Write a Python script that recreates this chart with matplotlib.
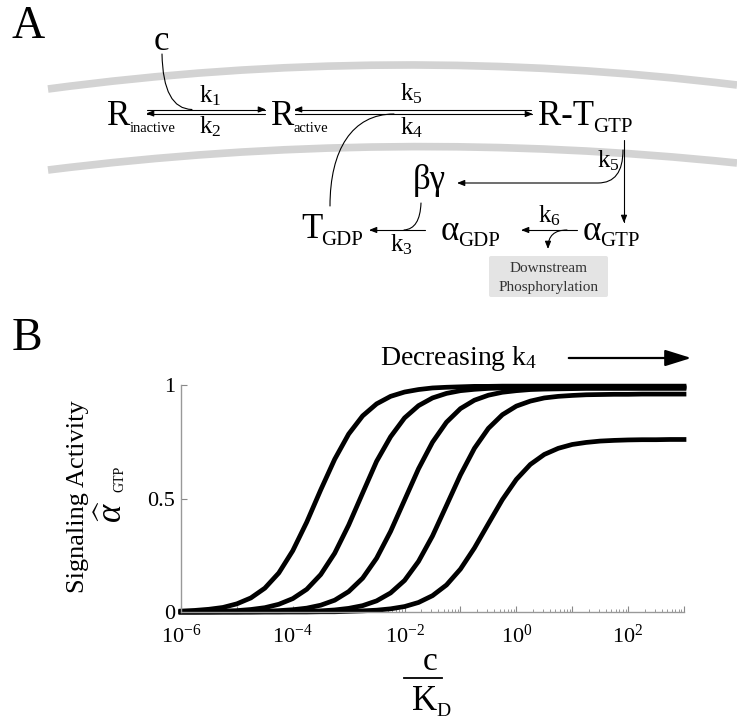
import numpy as np
import matplotlib
matplotlib.use('Agg')
import matplotlib.pyplot as plt
from matplotlib.path import Path
from matplotlib.patches import PathPatch, FancyArrowPatch, FancyBboxPatch, ArrowStyle

plt.rcParams['font.family'] = ['Liberation Serif', 'DejaVu Serif']
plt.rcParams['mathtext.fontset'] = 'custom'
plt.rcParams['mathtext.rm'] = 'Liberation Serif'
plt.rcParams['mathtext.it'] = 'Liberation Serif:italic'

# log10(c/KD) grid, values
log_c = [-6.0, -5.75, -5.5, -5.25, -5.0, -4.75, -4.5, -4.25, -4.0, -3.75, -3.5, -3.25,
         -3.0, -2.75, -2.5, -2.25, -2.0, -1.75, -1.5, -1.25, -1.0, -0.75, -0.5, -0.25,
         0.0, 0.25, 0.5, 0.75, 1.0, 1.25, 1.5, 1.75, 2.0, 2.25, 2.5, 2.75, 3.0]

act_1 = [0.004, 0.007, 0.012, 0.020, 0.036, 0.062, 0.105, 0.172, 0.270, 0.396, 0.538, 0.673,
         0.784, 0.864, 0.917, 0.950, 0.969, 0.980, 0.987, 0.990, 0.992, 0.994, 0.994, 0.995,
         0.995, 0.995, 0.995, 0.995, 0.995, 0.995, 0.995, 0.995, 0.995, 0.995, 0.995, 0.995, 0.995]
act_2 = [0.001, 0.001, 0.002, 0.004, 0.006, 0.011, 0.019, 0.034, 0.059, 0.100, 0.165, 0.259,
         0.383, 0.524, 0.664, 0.772, 0.855, 0.909, 0.943, 0.963, 0.975, 0.981, 0.985, 0.987,
         0.988, 0.989, 0.990, 0.990, 0.990, 0.990, 0.990, 0.990, 0.990, 0.990, 0.990, 0.990, 0.990]
act_3 = [0.000, 0.000, 0.000, 0.001, 0.001, 0.002, 0.003, 0.006, 0.010, 0.017, 0.030, 0.052,
         0.090, 0.149, 0.237, 0.355, 0.493, 0.631, 0.748, 0.836, 0.896, 0.933, 0.955, 0.968,
         0.975, 0.980, 0.982, 0.983, 0.984, 0.985, 0.985, 0.985, 0.985, 0.985, 0.985, 0.985, 0.985]
act_4 = [0.000, 0.000, 0.000, 0.000, 0.000, 0.000, 0.001, 0.001, 0.002, 0.003, 0.005, 0.009,
         0.016, 0.028, 0.049, 0.084, 0.139, 0.223, 0.335, 0.469, 0.604, 0.721, 0.809, 0.869,
         0.907, 0.929, 0.943, 0.950, 0.954, 0.957, 0.958, 0.959, 0.959, 0.960, 0.960, 0.960, 0.960]
act_5 = [0.000, 0.000, 0.000, 0.000, 0.000, 0.000, 0.000, 0.000, 0.000, 0.000, 0.001, 0.001,
         0.003, 0.005, 0.008, 0.014, 0.024, 0.042, 0.072, 0.119, 0.189, 0.282, 0.389, 0.495,
         0.584, 0.650, 0.694, 0.721, 0.738, 0.747, 0.753, 0.756, 0.758, 0.759, 0.759, 0.760, 0.760]

xtick_vals = [1e-6, 1e-5, 1e-4, 1e-3, 1e-2, 1e-1, 1e0, 1e1, 1e2, 1e3]
xtick_labels = ['$10^{-6}$', '', '$10^{-4}$', '', '$10^{-2}$', '', '$10^{0}$', '', '$10^{2}$', '']
ytick_vals = [0, 0.5, 1]
ytick_labels = ['0', '0.5', '1']

fig = plt.figure(figsize=(7.37, 7.21), dpi=100)
renderer = fig.canvas.get_renderer()

# ---- panel A: reaction scheme, drawn in pixel coordinates ----
dg = fig.add_axes([0, 0, 1, 1])
dg.set_xlim(0, 737)
dg.set_ylim(721, 0)
dg.axis('off')

# membrane
for p0, p1, p2 in [((48, 89), (392, 43), (737, 85)), ((48, 170), (392, 127), (737, 163))]:
    mp = Path([p0, p1, p2], [Path.MOVETO, Path.CURVE3, Path.CURVE3])
    dg.add_patch(PathPatch(mp, fc='none', ec='#d3d3d3', lw=5.5, capstyle='butt', zorder=1))

def arr(verts, codes=None, head=True):
    if codes is None:
        codes = [Path.MOVETO] + [Path.LINETO] * (len(verts) - 1)
    st = ArrowStyle('-|>', head_length=0.45, head_width=0.18) if head else ArrowStyle('-')
    dg.add_patch(FancyArrowPatch(path=Path(verts, codes), arrowstyle=st, mutation_scale=10,
                                 lw=0.8, color='black', zorder=3))

def label(x, y, main, sub, size=25, subsize=15, dy=7):
    # main glyph, then subscript put right after its drawn right edge
    t = dg.text(x, y, main, fontsize=size, va='baseline')
    bb = t.get_window_extent(renderer)
    xr = dg.transData.inverted().transform((bb.x1, bb.y0))[0]
    dg.text(xr - 1, y + dy, sub, fontsize=subsize, va='baseline')

arr([(147, 109.5), (266, 109.5)])
arr([(265, 113.5), (146, 113.5)])
arr([(531, 109.5), (294, 109.5)])
arr([(295, 114), (533, 114)])
arr([(162, 54), (163, 109), (192, 109.5)], [Path.MOVETO, Path.CURVE3, Path.CURVE3], head=False)
arr([(330, 206), (330, 150), (352, 114), (394, 114)],
    [Path.MOVETO, Path.CURVE4, Path.CURVE4, Path.CURVE4], head=False)
arr([(624, 140), (624, 223)])
arr([(623, 150), (623, 183), (598, 183), (457, 183)],
    [Path.MOVETO, Path.CURVE3, Path.CURVE3, Path.LINETO])
arr([(421, 203), (420, 229), (404, 230)], [Path.MOVETO, Path.CURVE3, Path.CURVE3], head=False)
arr([(425, 230), (369, 230)])
arr([(577, 230), (521, 230)])
arr([(567, 230), (548, 230), (548, 249)], [Path.MOVETO, Path.CURVE3, Path.CURVE3])

dg.add_patch(FancyBboxPatch((489, 256), 119, 41, boxstyle='round,pad=0,rounding_size=2',
                            fc='#e4e4e4', ec='none', zorder=2))
dg.text(548.5, 268, 'Downstream', fontsize=11, color='#333333', ha='center', va='center')
dg.text(548.5, 287, 'Phosphorylation', fontsize=11, color='#333333', ha='center', va='center')

dg.text(12, 38, 'A', fontsize=33, va='baseline')
dg.text(161, 50, 'c', fontsize=25, ha='center', va='baseline')
label(107, 125, 'R', 'inactive', subsize=10.5)
label(271, 125, 'R', 'active', subsize=10.5)
label(538, 125, 'R-T', 'GTP')
dg.text(413, 189, 'βγ', fontsize=25, va='baseline')
label(301, 238, 'T', 'GDP')
label(441, 240, 'α', 'GDP', dy=6)
label(583, 240, 'α', 'GTP', dy=6)
for kx, ky, kl in [(199, 102, 'k$_1$'), (199, 133, 'k$_2$'), (400, 100, 'k$_5$'),
                   (400, 134, 'k$_4$'), (597, 167, 'k$_5$'), (538, 222, 'k$_6$'),
                   (390, 251, 'k$_3$')]:
    dg.text(kx, ky, kl, fontsize=18, va='baseline')

# ---- panel B ----
dg.text(12, 350, 'B', fontsize=33, va='baseline')
dg.text(380, 365, 'Decreasing k$_4$', fontsize=20, va='baseline')
dg.annotate('', xy=(694, 358), xytext=(566, 358),
            arrowprops=dict(arrowstyle='-|>,head_length=1.6,head_width=0.5', lw=1.6, color='black'))
dg.text(84, 497, 'Signaling Activity', fontsize=19, rotation=90, rotation_mode='anchor',
        ha='center', va='baseline')
dg.text(122, 512, r'$\widehat{\alpha}$', fontsize=25, rotation=90, rotation_mode='anchor',
        ha='center', va='baseline')
dg.text(123, 479, 'GTP', fontsize=10, rotation=90, rotation_mode='anchor',
        ha='center', va='baseline')
dg.text(430, 670, 'c', fontsize=24, ha='center', va='baseline')
dg.plot([404, 442], [678, 678], color='black', lw=1.3)
label(412, 710, 'K', 'D', size=25, subsize=14, dy=6)

ax = fig.add_axes([181 / 737, 109 / 721, 503 / 737, 227 / 721])
c = 10.0 ** np.array(log_c)
for act in [act_1, act_2, act_3, act_4, act_5]:
    ax.plot(c, act, color='black', lw=3.4, clip_on=False, solid_joinstyle='round')
ax.set_xscale('log')
ax.set_xlim(1e-6, 1e3)
ax.set_ylim(0, 1)
ax.set_xticks(xtick_vals)
ax.set_xticklabels(xtick_labels)
ax.xaxis.set_minor_locator(matplotlib.ticker.LogLocator(base=10, subs=np.arange(2, 10), numticks=20))
ax.xaxis.set_minor_formatter(matplotlib.ticker.NullFormatter())
ax.set_yticks(ytick_vals)
ax.set_yticklabels(ytick_labels)
for s in ['top', 'right']:
    ax.spines[s].set_visible(False)
for s in ['left', 'bottom']:
    ax.spines[s].set_color('#999999')
    ax.spines[s].set_linewidth(1.0)
ax.tick_params(axis='both', which='major', direction='in', length=4, width=0.8,
               color='#888888', labelsize=16, pad=3)
ax.tick_params(axis='x', which='major', pad=9)
ax.tick_params(axis='y', which='major', pad=4)
ax.tick_params(axis='x', which='minor', direction='in', length=2.5, width=0.6, color='#888888')
ax.patch.set_alpha(0)

fig.savefig('out.png', dpi=100)
